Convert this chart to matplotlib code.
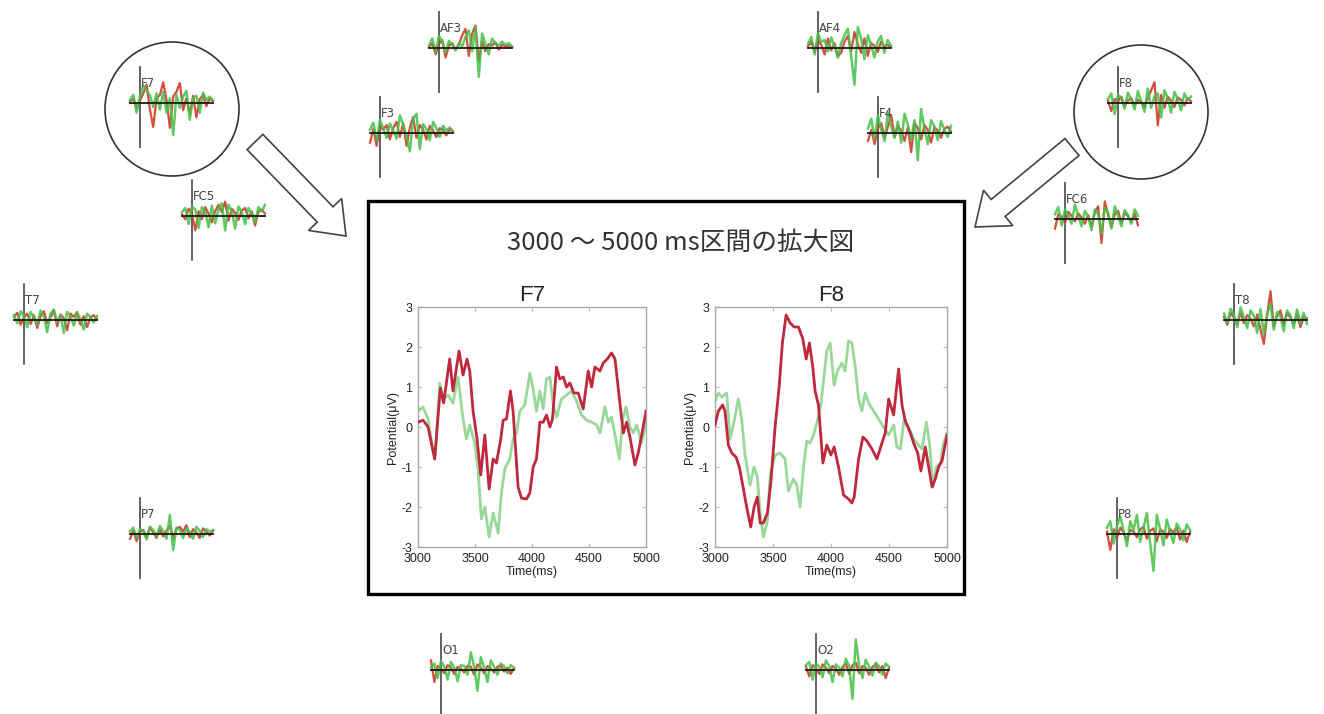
"""EEG 電極波形と 3000-5000 ms 区間の拡大図"""

import matplotlib
matplotlib.use("Agg")

import matplotlib.pyplot as plt
import matplotlib.patches as mpatches
import numpy as np

plt.rcParams["axes.unicode_minus"] = False

W, H = 1324, 714

# ---- 拡大図のデータ (ms, μV) ----
F7_RED_T = [3000, 3044, 3088, 3146, 3196, 3225, 3278, 3307, 3360, 3395, 3430, 3454, 3483, 3518,
            3550, 3586, 3624, 3659, 3688, 3726, 3747, 3776, 3811, 3834, 3878, 3908, 3952, 3981,
            4010, 4039, 4069, 4098, 4127, 4157, 4180, 4215, 4244, 4274, 4303, 4332, 4367, 4405,
            4449, 4493, 4523, 4552, 4596, 4625, 4660, 4698, 4728, 4771, 4801, 4830, 4859, 4903,
            4932, 4962, 5000]
F7_RED_V = [0.12, 0.17, 0.0, -0.8, 0.97, 0.6, 1.7, 0.9, 1.9, 1.3, 1.7, 1.4, 0.4, -0.3,
            -1.2, -0.2, -1.55, -0.8, -0.9, -0.3, 0.17, 0.2, 0.9, 0.4, -1.5, -1.78, -1.8, -1.65,
            -1.0, -0.8, 0.12, 0.12, 0.3, 0.0, 0.2, 1.5, 1.2, 1.25, 1.0, 1.1, 0.85, 0.85,
            0.45, 1.4, 1.0, 1.5, 1.4, 1.6, 1.7, 1.85, 1.7, 0.6, -0.15, 0.12, -0.25, -0.95,
            -0.65, -0.2, 0.4]
F7_GREEN_T = [3000, 3044, 3088, 3132, 3152, 3190, 3225, 3264, 3307, 3351, 3395, 3425, 3454, 3498,
              3527, 3556, 3586, 3624, 3659, 3703, 3732, 3761, 3805, 3834, 3864, 3893, 3937, 3981,
              4010, 4039, 4069, 4098, 4127, 4157, 4186, 4215, 4259, 4303, 4347, 4391, 4435, 4479,
              4523, 4567, 4596, 4640, 4669, 4698, 4728, 4766, 4795, 4825, 4859, 4889, 4918, 4962,
              5000]
F7_GREEN_V = [0.4, 0.5, 0.2, -0.6, -0.7, 1.1, 0.7, 0.8, 0.6, 1.25, 0.2, -0.3, 0.05, -0.4,
              -1.05, -2.3, -2.0, -2.75, -2.15, -2.65, -1.65, -1.05, -0.8, -0.3, -0.15, 0.4, 0.55, 1.35,
              0.95, 0.4, 0.9, 0.45, 1.2, 1.25, 0.55, 0.25, 0.7, 0.8, 0.9, 0.65, 0.3, 0.17,
              0.12, 0.05, -0.15, 0.5, 0.12, 0.25, -0.2, -0.8, 0.2, 0.5, 0.0, -0.15, 0.05, -0.4,
              0.12]

F8_RED_T = [3000, 3029, 3066, 3086, 3115, 3144, 3181, 3210, 3245, 3273, 3308, 3337, 3365, 3389,
            3417, 3452, 3481, 3518, 3553, 3581, 3613, 3648, 3682, 3720, 3757, 3786, 3814, 3843,
            3863, 3892, 3930, 3964, 3999, 4027, 4065, 4108, 4151, 4180, 4200, 4238, 4275, 4310,
            4353, 4396, 4439, 4468, 4497, 4540, 4583, 4612, 4640, 4684, 4712, 4747, 4775, 4813,
            4842, 4871, 4899, 4928, 4957, 5000]
F8_RED_V = [0.05, 0.4, 0.55, 0.4, -0.45, -0.65, -0.75, -1.0, -1.55, -2.0, -2.5, -2.0, -1.75, -2.4,
            -2.4, -2.15, -1.4, 0.0, 1.0, 2.1, 2.8, 2.6, 2.5, 2.5, 2.2, 1.7, 2.1, 1.5,
            0.9, 0.55, -0.9, -0.45, -0.7, -0.5, -1.0, -1.7, -1.8, -1.9, -1.75, -0.8, -0.25, -0.35,
            -0.55, -0.8, -0.4, -0.15, 0.7, 0.3, 1.45, 0.55, 0.15, -0.15, -0.4, -0.65, -1.1, -0.5,
            -1.0, -1.5, -1.3, -1.0, -0.85, -0.2]
F8_GREEN_T = [3000, 3029, 3058, 3101, 3130, 3158, 3201, 3230, 3259, 3302, 3337, 3365, 3389, 3417,
              3452, 3475, 3518, 3561, 3604, 3633, 3676, 3705, 3734, 3763, 3791, 3820, 3849, 3878,
              3912, 3935, 3964, 3993, 4027, 4056, 4094, 4122, 4151, 4180, 4209, 4238, 4266, 4295,
              4324, 4367, 4410, 4453, 4497, 4540, 4568, 4597, 4632, 4669, 4712, 4741, 4784, 4822,
              4851, 4879, 4908, 4943, 4971, 5000]
F8_GREEN_V = [0.65, 0.85, 0.75, 0.85, -0.3, 0.05, 0.7, 0.2, -0.7, -1.45, -1.0, -1.25, -2.15, -2.75,
              -2.35, -1.2, -0.7, -0.65, -0.8, -1.6, -1.3, -1.45, -2.0, -1.0, -0.35, -0.4, -0.2, 0.1,
              0.55, 1.15, 1.9, 2.1, 1.05, 1.4, 1.6, 1.4, 2.15, 2.1, 1.5, 0.7, 0.4, 0.85,
              0.6, 0.4, 0.2, 0.0, -0.2, 0.05, -0.5, -0.55, 0.2, 0.0, -0.3, -0.4, -0.55, 0.12,
              -0.45, -1.5, -1.0, -0.9, -0.4, -0.15]

X_TICKS = [3000, 3500, 4000, 4500, 5000]
Y_TICKS = [-3, -2, -1, 0, 1, 2, 3]

# ---- 各電極の全区間波形 (相対振幅) ----
AF3_RED = [0.1, 0.6, -0.8, 0.5, 1.0, -1.2, 0.3, 0.6, -0.2, 0.4, 1.6, 2.4, -1.0, 1.8, 2.8, -1.6, 0.8, -0.4, 0.5, 0.3, 0.7, -0.2, 0.4, 0.2, 0.3, 0.1]
AF3_GREEN = [0.3, 1.2, -0.5, 1.5, 0.8, -0.6, 0.9, 0.4, -0.3, 0.6, 0.2, 1.4, 2.2, -0.4, 2.6, -3.6, 1.8, 0.5, -0.8, 1.2, 0.6, 0.3, 0.8, 0.4, 0.6, 0.2]
F3_RED = [-1.2, 0.5, -1.6, 0.8, 0.4, 1.0, -0.8, 0.6, 1.4, -0.5, 1.2, -1.6, 0.7, 2.0, -0.6, 1.0, 0.4, -0.8, 0.9, 0.3, -0.5, 0.6, 0.4, -0.3, 0.5, 0.2]
F3_GREEN = [0.4, 1.3, -0.9, 1.6, 0.6, -0.6, 1.2, 0.3, -0.7, 2.2, 1.0, -0.4, -2.3, 1.8, 2.4, -2.0, 1.1, 0.5, -0.9, 1.4, 0.6, -0.5, 0.9, 0.3, 0.7, 0.2]
AF4_RED = [0.2, 0.8, -0.5, 1.0, 0.4, -0.8, 1.2, -0.3, 0.6, -1.0, -0.6, 0.8, 1.5, -0.4, 2.0, 0.5, -0.6, 1.2, -1.0, 0.6, 0.3, -0.5, 0.8, 0.2, 0.4, 0.1]
AF4_GREEN = [0.5, 1.4, -0.8, 1.8, 0.8, 1.0, -0.4, 1.3, 0.2, -1.2, 0.6, 1.6, 2.4, -1.0, -4.6, 2.6, 1.2, -1.4, 1.6, 0.4, -1.2, 0.8, 1.5, -0.6, 1.0, 0.3]
F4_RED = [-1.0, 0.4, -1.4, 0.6, 1.2, -0.6, 0.8, 2.2, -0.5, 0.9, 0.3, -1.0, 0.7, -2.4, 1.3, 0.6, -0.8, 1.0, 0.4, -1.2, 0.7, 0.3, -0.6, 0.5, 0.8, 0.2]
F4_GREEN = [0.6, 1.8, -0.8, 2.2, 0.4, -1.0, 2.6, 0.8, -0.6, 1.4, -1.2, 2.4, 1.0, -0.8, 1.6, -3.4, 3.0, 0.6, -1.4, 1.6, 0.8, -0.9, 1.5, 0.4, -0.5, 0.9]
F7_RED = [0.2, 0.5, -0.6, 0.3, 1.2, 2.3, -0.8, -3.0, 0.6, 1.0, 2.6, 0.4, -3.1, 0.8, 1.4, 2.5, -0.9, 0.6, -1.4, 0.9, -1.8, 0.5, 1.0, -0.4, 0.6, 0.2]
F7_GREEN = [0.4, 1.0, -1.2, 0.8, 2.2, 1.5, 1.0, -0.5, 1.2, -0.8, 1.4, -1.2, 0.6, -4.0, 1.0, -0.6, 0.8, 1.5, -2.1, 0.6, 0.9, -1.2, 1.3, 0.4, 0.8, 0.3]
FC5_RED = [0.2, -0.4, 0.9, 0.3, -1.8, 0.6, -0.4, 1.1, 0.3, -0.8, 0.6, 1.4, 0.5, 1.8, -0.6, 0.9, 0.4, -0.5, 0.7, 1.0, -0.3, 0.6, -1.2, 0.5, 0.8, 0.3]
FC5_GREEN = [0.5, 1.0, -1.0, 1.2, 0.8, -1.5, 1.1, 0.6, -1.4, 1.3, -0.9, 0.8, 1.6, -1.8, 1.4, 0.6, -1.6, 1.2, 0.5, -1.0, 1.0, 0.4, -0.8, 1.1, 0.6, 1.4]
T7_RED = [0.4, 0.9, -0.6, 0.3, 0.8, -0.5, 0.6, -1.0, 0.5, 1.1, -0.4, 0.3, 1.2, -0.8, 0.7, 0.2, -1.3, 0.8, 0.4, 1.0, -0.6, 0.5, -0.9, 0.3, 0.6, 0.1]
T7_GREEN = [0.6, -0.4, 1.1, 0.5, -0.9, 1.0, 0.3, -0.6, 1.2, 0.4, -1.5, 0.8, 1.3, -0.3, 0.6, -1.6, 1.0, 0.5, -0.7, 0.9, 0.2, -1.2, 0.8, 0.4, -0.3, 0.5]
P7_RED = [-0.6, 0.4, -0.9, 0.3, 0.5, -0.4, 0.8, 0.2, -0.5, 0.6, -0.3, 0.4, 1.0, -0.6, 0.7, 0.9, 0.3, 1.1, -0.4, 0.6, 0.2, -0.5, 0.7, 0.3, -0.2, 0.4]
P7_GREEN = [0.3, 0.8, -0.5, 0.6, 0.4, -0.7, 0.9, 0.5, -0.3, 1.0, 0.4, -0.6, 2.4, -2.0, 0.8, 0.5, -0.5, 0.7, 0.3, -0.6, 0.9, 0.4, -0.4, 0.6, 0.3, 0.5]
O1_RED = [1.2, -1.5, 0.5, 0.2, -0.4, 0.6, 0.3, -0.5, 0.4, 0.2, -0.3, 0.5, 0.4, -0.6, 0.7, 0.3, -0.4, 0.5, 0.2, -0.3, 0.4, 0.6, -0.2, 0.3, -0.5, 0.2]
O1_GREEN = [0.3, 0.8, -1.0, 1.1, 0.4, -1.2, 1.0, 0.3, -1.4, 0.6, 0.5, -0.6, 2.2, 0.4, -2.6, 1.6, 0.3, -1.5, 1.2, 0.4, -0.6, 0.8, 0.5, -0.4, 0.6, 0.3]
O2_RED = [0.4, -0.8, 0.6, 0.2, -0.5, 0.7, 0.3, -0.4, 0.5, 0.2, -0.6, 0.4, 0.8, -0.5, 0.6, 0.9, -0.4, 0.5, 0.3, -0.6, 0.4, 0.7, -0.3, 0.5, -1.0, 0.3]
O2_GREEN = [0.6, 1.0, -1.2, 0.8, 0.4, -0.9, 1.2, 0.5, -1.5, 0.7, 0.3, -0.8, 1.4, 0.5, -3.6, 3.8, 0.6, -1.0, 1.3, 0.4, -0.7, 0.9, 0.5, -0.6, 0.8, 0.4]
F8_RED = [0.3, -1.0, 0.5, 0.2, 0.8, -0.4, 0.3, 0.6, -0.3, 0.4, 0.2, -0.5, 0.6, 1.6, 2.6, -2.8, 1.0, -0.6, 0.8, 0.3, -0.5, 0.7, 0.4, -0.3, 0.6, 0.2]
F8_GREEN = [0.5, 1.2, -1.4, 1.0, 0.6, -0.7, 1.3, 0.4, -0.8, 1.5, 0.2, -1.1, 1.8, -0.6, 0.8, 1.2, -1.8, 1.6, 0.6, -1.2, 1.4, 0.5, -0.9, 1.2, 0.4, 0.8]
FC6_RED = [-1.2, 0.6, 0.3, -0.5, 0.9, 0.4, -0.3, 0.7, 0.2, -0.6, 0.5, -1.0, 0.8, 1.6, -3.0, 2.2, 0.5, -1.0, 0.6, 1.0, -0.5, 0.8, 0.3, -0.4, 0.7, -0.8]
FC6_GREEN = [0.6, 1.5, -0.8, 1.2, 0.5, -0.6, 1.8, 0.4, -0.9, 1.0, 0.3, -1.4, 1.2, 0.6, -1.8, 1.4, 0.8, -1.2, 1.6, 0.4, -0.9, 1.1, 0.5, -0.6, 1.2, 0.4]
T8_RED = [0.4, -0.6, 0.9, 0.3, -0.5, 1.0, -0.4, 0.6, 0.2, -0.8, 0.7, -1.2, -3.0, 0.6, 3.6, -0.8, 0.5, 1.2, -0.6, 0.9, 0.3, -0.5, 0.8, -0.9, 0.4, 0.2]
T8_GREEN = [0.8, -0.5, 1.4, 0.6, -0.9, 1.6, 0.3, -1.0, 1.2, 0.5, -1.6, 1.4, -1.8, 0.8, 2.0, -1.2, 1.0, 0.4, -1.4, 1.2, 0.6, -1.0, 1.3, -0.4, 0.9, -0.5]
P8_RED = [0.3, -2.0, 0.6, -0.5, 0.8, 0.2, -0.8, 0.5, 0.3, -0.4, 0.6, 0.9, -0.6, 0.4, 0.7, -0.9, 0.5, 0.3, -0.5, 0.6, 0.2, 0.8, -0.7, 0.4, -1.0, 0.3]
P8_GREEN = [0.8, 1.6, -1.2, 1.0, 2.2, 0.4, -1.5, 1.6, 0.5, 2.4, -1.0, 0.8, 2.6, -1.2, -4.6, 2.4, 0.6, -1.4, 1.8, 0.3, -1.1, 1.3, 0.6, -0.8, 1.2, 0.5]

# 電極名, 縦軸のx(px), 基線のy(px), 赤, 緑
ELECTRODES = [
    ("AF3", 439, 48, AF3_RED, AF3_GREEN),
    ("F3", 380, 133, F3_RED, F3_GREEN),
    ("AF4", 818, 48, AF4_RED, AF4_GREEN),
    ("F4", 878, 133, F4_RED, F4_GREEN),
    ("F7", 140, 103, F7_RED, F7_GREEN),
    ("FC5", 192, 216, FC5_RED, FC5_GREEN),
    ("T7", 24, 320, T7_RED, T7_GREEN),
    ("P7", 140, 534, P7_RED, P7_GREEN),
    ("O1", 441, 670, O1_RED, O1_GREEN),
    ("O2", 816, 670, O2_RED, O2_GREEN),
    ("F8", 1118, 103, F8_RED, F8_GREEN),
    ("FC6", 1065, 219, FC6_RED, FC6_GREEN),
    ("T8", 1234, 320, T8_RED, T8_GREEN),
    ("P8", 1117, 534, P8_RED, P8_GREEN),
]

SMALL_RED = "#d23a2c"
SMALL_GREEN = "#45c045"
ZOOM_RED = "#c0283e"
ZOOM_GREEN = "#98d898"
JP_FONT = ["Noto Sans CJK JP", "DejaVu Sans"]

fig = plt.figure(figsize=(W / 100, H / 100), dpi=100, facecolor="white")
bg = fig.add_axes([0, 0, 1, 1])
bg.set_xlim(0, W)
bg.set_ylim(H, 0)
bg.axis("off")

# 各電極
SCALE = 8.0
for name, vx, hy, red, green in ELECTRODES:
    xs = np.linspace(vx - 10, vx + 73, len(red))
    bg.plot([vx, vx], [hy - 36, hy + 44], color="#555555", lw=1.3, zorder=2)
    bg.plot(xs, hy - np.array(red) * SCALE, color=SMALL_RED, lw=1.6, alpha=0.9, zorder=3)
    bg.plot(xs, hy - np.array(green) * SCALE, color=SMALL_GREEN, lw=1.8, alpha=0.85, zorder=4)
    bg.plot([vx - 10, vx + 73], [hy, hy], color="#1a1a1a", lw=1.3, zorder=5)
    bg.text(vx + 1, hy - 13, name, fontsize=8.5, color="#444444", family="DejaVu Sans",
            ha="left", va="bottom", zorder=6)

# 丸印
for cx, cy in [(172, 109), (1141, 112)]:
    bg.add_patch(mpatches.Circle((cx, cy), 67, fill=False, ec="#333333", lw=1.2, zorder=1))

# 矢印
for x0, y0, x1, y1 in [(255, 142, 346, 236), (1072, 147, 975, 227)]:
    bg.add_patch(mpatches.FancyArrow(x0, y0, x1 - x0, y1 - y0, width=22, head_width=46,
                                     head_length=30, length_includes_head=True,
                                     fc="white", ec="#444444", lw=1.2, zorder=1))

# 拡大図の枠
bg.add_patch(mpatches.Rectangle((368, 201), 596, 393, fill=False, ec="black", lw=2.4, zorder=1))
fig.text(681 / W, 1 - 243 / H, "3000 ～ 5000 ms区間の拡大図", fontsize=18.5, family=JP_FONT,
         color="#333333", ha="center", va="center")


def zoom_panel(left, width, title, rt, rv, gt, gv):
    ax = fig.add_axes([left / W, 1 - 547 / H, width / W, 240 / H])
    ax.plot(gt, gv, color=ZOOM_GREEN, lw=2.0, zorder=2)
    ax.plot(rt, rv, color=ZOOM_RED, lw=2.0, zorder=3)
    ax.set_xlim(3000, 5000)
    ax.set_ylim(-3, 3)
    ax.set_xticks(X_TICKS)
    ax.set_yticks(Y_TICKS)
    for sp in ax.spines.values():
        sp.set_color("#a8a8a8")
        sp.set_linewidth(1.0)
    ax.tick_params(direction="in", length=3, color="#bbbbbb", labelcolor="#222222",
                   labelsize=9, top=True, right=True, pad=4)
    for lab in ax.get_xticklabels() + ax.get_yticklabels():
        lab.set_family("Liberation Sans")
    ax.set_xlabel("Time(ms)", fontsize=9, family="Liberation Sans", color="#222222", labelpad=1)
    ax.set_ylabel("Potential(μV)", fontsize=9, family="Liberation Sans", color="#222222", labelpad=2)
    ax.set_title(title, fontsize=16, family="Liberation Sans", color="#222222", pad=4)
    return ax


zoom_panel(418, 228, "F7", F7_RED_T, F7_RED_V, F7_GREEN_T, F7_GREEN_V)
zoom_panel(715, 232, "F8", F8_RED_T, F8_RED_V, F8_GREEN_T, F8_GREEN_V)

fig.savefig("out.png", dpi=100, facecolor="white")
plt.close(fig)
